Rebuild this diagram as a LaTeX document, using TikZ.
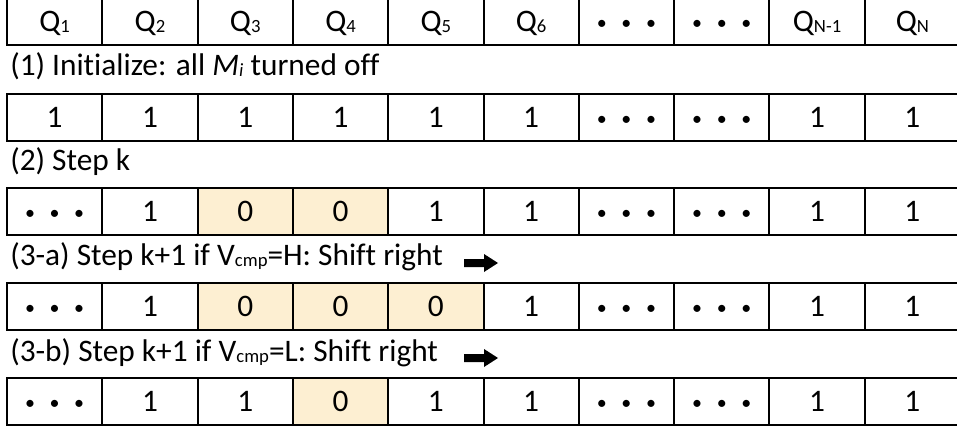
\documentclass[tikz,border=0pt]{standalone}
\usepackage{fontspec}
\setmainfont{Carlito}[Ligatures={NoCommon,NoRare,NoContextual}]
\definecolor{hlfill}{HTML}{FDEFD2}
\newcommand\sbs[1]{\raisebox{-0.75pt}{\fontsize{14pt}{15pt}\selectfont #1}}
\newcommand\onedot{\makebox[18.4pt]{\raisebox{1.5pt}{\fontsize{15pt}{16pt}\selectfont •}}}
\newcommand\dd{\onedot\onedot\onedot}
\begin{document}
\begin{tikzpicture}[x=0.75pt,y=-0.75pt,
  cell/.style={draw=black, line width=1.5pt, minimum width=71.475pt, minimum height=35.25pt,
    inner sep=0pt, text height=15pt, text depth=0pt, font=\fontsize{23.5pt}{26pt}\selectfont},
  hl/.style={cell, fill=hlfill},
  lbl/.style={anchor=base west, inner sep=0pt, font=\fontsize{23.5pt}{26pt}\selectfont},
  blockarrow/.style={fill=black}]
\useasboundingbox (0,0) rectangle (957,431);
\clip (0,0) rectangle (957,431);
% row 1
\foreach \s/\t [count=\i from 0] in {cell/Q\sbs{1},cell/Q\sbs{2},cell/Q\sbs{3},cell/Q\sbs{4},cell/Q\sbs{5},cell/Q\sbs{6},cell/\dd,cell/\dd,cell/Q\sbs{N-1},cell/Q\sbs{N}}
  \node[\s] (a\i) at ({7+95.3*(\i+0.5)},21.5) {\t};
\node[lbl] (la) at (10,76) {(1) Initialize: all \textit{M\sbs{i}} turned off};
% row 2
\foreach \s/\t [count=\i from 0] in {cell/1,cell/1,cell/1,cell/1,cell/1,cell/1,cell/\dd,cell/\dd,cell/1,cell/1}
  \node[\s] (b\i) at ({7+95.3*(\i+0.5)},117.5) {\t};
\node[lbl] (lb) at (10,171) {(2) Step k};
% row 3
\foreach \s/\t [count=\i from 0] in {cell/\dd,cell/1,hl/0,hl/0,cell/1,cell/1,cell/\dd,cell/\dd,cell/1,cell/1}
  \node[\s] (c\i) at ({7+95.3*(\i+0.5)},211.5) {\t};
\node[lbl] (lc) at (10,266) {(3-a) Step k+1 if V\sbs{cmp}=H: Shift right};
\fill[blockarrow] (464,259) -- (484,259) -- (484,254) -- (498,263) -- (484,272) -- (484,267) -- (464,267) -- cycle;
% row 4
\foreach \s/\t [count=\i from 0] in {cell/\dd,cell/1,hl/0,hl/0,hl/0,cell/1,cell/\dd,cell/\dd,cell/1,cell/1}
  \node[\s] (d\i) at ({7+95.3*(\i+0.5)},306.5) {\t};
\node[lbl] (ld) at (10,361) {(3-b) Step k+1 if V\sbs{cmp}=L: Shift right};
\fill[blockarrow] (464,354) -- (484,354) -- (484,349) -- (498,358) -- (484,367) -- (484,362) -- (464,362) -- cycle;
% row 5
\foreach \s/\t [count=\i from 0] in {cell/\dd,cell/1,cell/1,hl/0,cell/1,cell/1,cell/\dd,cell/\dd,cell/1,cell/1}
  \node[\s] (e\i) at ({7+95.3*(\i+0.5)},401.5) {\t};
\end{tikzpicture}
\end{document}
